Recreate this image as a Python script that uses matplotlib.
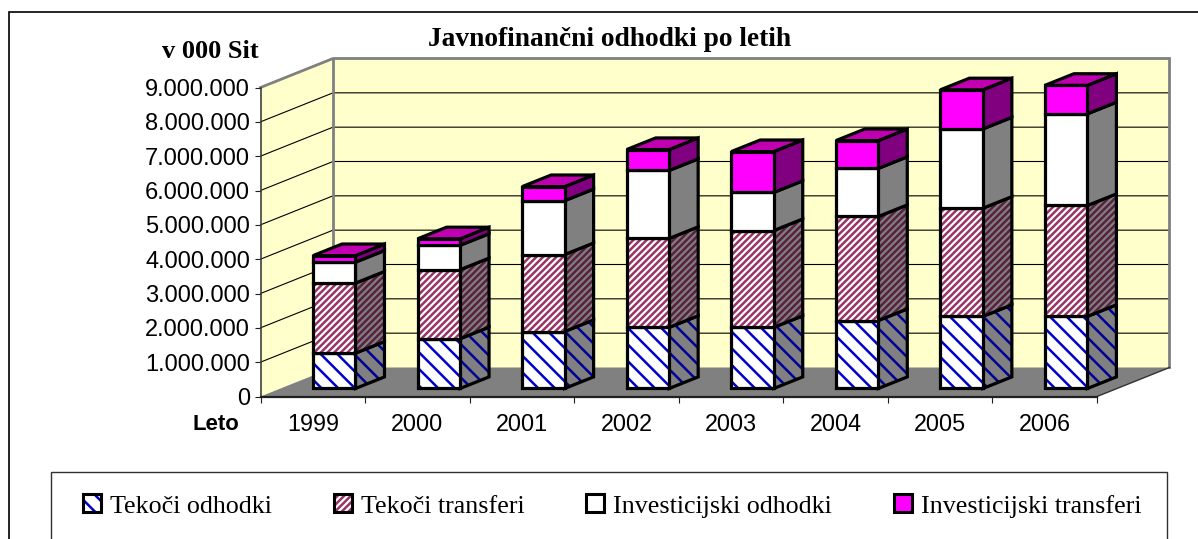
import matplotlib as mpl
mpl.use("Agg")
import matplotlib.pyplot as plt
from matplotlib.patches import Polygon, Patch, Rectangle
from matplotlib.legend_handler import HandlerBase

years = ["1999", "2000", "2001", "2002", "2003", "2004", "2005", "2006"]
tekoci_odhodki = [1030000, 1450000, 1660000, 1780000, 1780000, 1980000, 2100000, 2100000]
tekoci_transferi = [2040000, 2010000, 2240000, 2590000, 2820000, 3030000, 3150000, 3230000]
inv_odhodki = [610000, 710000, 1570000, 1980000, 1110000, 1400000, 2310000, 2670000]
inv_transferi = [190000, 190000, 410000, 610000, 1190000, 810000, 1140000, 830000]
y_ticks = [0, 1000000, 2000000, 3000000, 4000000, 5000000, 6000000, 7000000, 8000000, 9000000]
y_labels = ["0", "1.000.000", "2.000.000", "3.000.000", "4.000.000", "5.000.000",
            "6.000.000", "7.000.000", "8.000.000", "9.000.000"]
names = ["Tekoči odhodki", "Tekoči transferi", "Investicijski odhodki", "Investicijski transferi"]

W, H = 1198, 539
SERIF = "Liberation Serif"
SANS = "Liberation Sans"
plt.rcParams["hatch.linewidth"] = 1.8

L, R, B, T = 260.5, 1097.0, 396.5, 87.5
fig = plt.figure(figsize=(W / 100, H / 100), dpi=100, facecolor="white")
ax = fig.add_axes([L / W, 1 - B / H, (R - L) / W, (B - T) / H])
ax.set_xlim(0, 8)
ax.set_ylim(0, 9000000)
ax.patch.set_visible(False)

DX = 72.5 * 8 / (R - L)      # full depth, in x data units
DY = 29.0 * 9000000 / (B - T)  # full depth, in y data units


def pr(x, y, d=0.0):
    return (x + d * DX, y + d * DY)


class HP(Polygon):
    """Polygon with its own hatch width."""
    def __init__(self, *a, hlw=2.3, **k):
        super().__init__(*a, **k)
        self.hlw = hlw

    def draw(self, renderer):
        with mpl.rc_context({"hatch.linewidth": self.hlw}):
            super().draw(renderer)


def poly(pts, fc, ec="none", lw=0, hatch=None, hc=None, hlw=2.3, z=1):
    p = HP(pts, closed=True, facecolor=fc, linewidth=lw, hlw=hlw, clip_on=False,
           zorder=z, joinstyle="miter", hatch=hatch,
           edgecolor=hc if hc else ec)
    ax.add_patch(p)
    if hc:  # hatch takes the edge colour: outline drawn separately
        p.set_linewidth(0)
        ax.add_patch(Polygon(pts, closed=True, fill=False, edgecolor=ec, linewidth=lw,
                             clip_on=False, zorder=z, joinstyle="miter"))
    return p


WALL = "#FFFFCC"
GREY = "#808080"
# walls and floor
poly([pr(0, 0), pr(0, 0, 1), pr(0, 9000000, 1), pr(0, 9000000)], WALL, z=0.5)
poly([pr(0, 0, 1), pr(8, 0, 1), pr(8, 9000000, 1), pr(0, 9000000, 1)], WALL, z=0.5)
poly([pr(0, 0), pr(8, 0), pr(8, 0, 1), pr(0, 0, 1)], GREY, z=0.6)
for v in y_ticks[1:-1]:
    a, b, c = pr(0, v), pr(0, v, 1), pr(8, v, 1)
    ax.plot([a[0], b[0], c[0]], [a[1], b[1], c[1]], color="black", lw=0.8, clip_on=False, zorder=0.7)
a, b, c, e = pr(0, 9000000), pr(0, 9000000, 1), pr(8, 9000000, 1), pr(8, 0, 1)
ax.plot([a[0], b[0], c[0], e[0]], [a[1], b[1], c[1], e[1]], color=GREY, lw=2, clip_on=False,
        zorder=0.8, solid_joinstyle="miter")
a, b = pr(0, 0, 1), pr(0, 9000000, 1)
ax.plot([a[0], b[0]], [a[1], b[1]], color=GREY, lw=2, clip_on=False, zorder=0.8)
a, b = pr(8, 0), pr(8, 0, 1)
ax.plot([a[0], b[0]], [a[1], b[1]], color="#333333", lw=1, clip_on=False, zorder=0.8)

# series styles: front (face, hatch, hatch colour, hatch width), side (face, hatch colour)
BLUE_H = "\\\\"
PINK_H = "/////"
styles = [
    dict(fc="white", h=BLUE_H, hc="#0000CC", hlw=2.6, sfc=GREY, shc="#000099"),
    dict(fc="white", h=PINK_H, hc="#993366", hlw=1.3, sfc=GREY, shc="#5A2040"),
    dict(fc="white", h=None, hc=None, hlw=1, sfc=GREY, shc=None),
    dict(fc="#FF00FF", h=None, hc=None, hlw=1, sfc="#800080", shc=None),
]
series = [tekoci_odhodki, tekoci_transferi, inv_odhodki, inv_transferi]
bw, off, d0, d1 = 0.406, 0.311, 0.276, 0.676
EL = 2.3
for i in range(len(years)):
    x0, x1 = i + off, i + off + bw
    base = 0
    z = 2 + i * 0.1
    for s, st in zip(series, styles):
        top = base + s[i]
        poly([pr(x1, base, d0), pr(x1, base, d1), pr(x1, top, d1), pr(x1, top, d0)],
             st["sfc"], "black", EL, st["h"], st["shc"], st["hlw"], z)
        poly([pr(x0, base, d0), pr(x1, base, d0), pr(x1, top, d0), pr(x0, top, d0)],
             st["fc"], "black", EL, st["h"], st["hc"], st["hlw"], z + 0.01)
        base = top
    poly([pr(x0, base, d0), pr(x1, base, d0), pr(x1, base, d1), pr(x0, base, d1)],
         "#C000B0", "black", EL, z=z + 0.02)

# axes
for sp in ("top", "right"):
    ax.spines[sp].set_visible(False)
ax.spines["left"].set_color("#404040")
ax.spines["left"].set_linewidth(1.2)
ax.spines["bottom"].set_color("#202020")
ax.spines["bottom"].set_linewidth(1.6)
ax.set_yticks(y_ticks)
ax.set_yticklabels(y_labels, family=SANS, fontsize=17)
ax.tick_params(axis="y", length=4, width=0.8, pad=3.5, color="#202020")
ax.set_xticks(range(9))
ax.set_xticklabels([""] * 9)
ax.set_xticks([i + 0.5 for i in range(8)], minor=True)
ax.set_xticklabels(years, minor=True, family=SANS, fontsize=16.8)
ax.tick_params(axis="x", which="major", length=4, width=0.8, color="#202020")
ax.tick_params(axis="x", which="minor", length=0, pad=12)


def pxx(x):
    return (x - L) / (R - L)


def pxy(y):
    return (B - y) / (B - T)


ax.set_title("Javnofinančni odhodki po letih", family=SERIF, fontweight="bold", fontsize=19.7,
             x=pxx(610), y=pxy(39), va="center", ha="center", pad=0)
ax.text(pxx(210.5), pxy(52), "v 000 Sit", transform=ax.transAxes, family=SERIF,
        fontweight="bold", fontsize=19, ha="center", va="center")
ax.text(pxx(216), pxy(425), "Leto", transform=ax.transAxes, family=SANS,
        fontweight="bold", fontsize=15.9, ha="center", va="center")

# outer frame and legend frame (both run past the picture edge)
fig.add_artist(Rectangle((8.5 / W, -0.1), 1.1, 0.1 + (H - 12) / H,
                         transform=fig.transFigure, fill=False, edgecolor="black", lw=1.2))
fig.add_artist(Rectangle((51 / W, (H - 560) / H), (1167 - 51) / W, 88 / H,
                         transform=fig.transFigure, fill=False, edgecolor="#303030", lw=1.0))


class SwatchHandler(HandlerBase):
    def __init__(self, hc):
        super().__init__()
        self.hc = hc

    def create_artists(self, legend, orig, xd, yd, width, height, fontsize, trans):
        out = []
        if orig.get_hatch():
            inner = Rectangle((-xd, -yd), width, height, facecolor=orig.get_facecolor(),
                              edgecolor=self.hc, hatch=orig.get_hatch(), linewidth=0, transform=trans)
            out.append(inner)
        else:
            out.append(Rectangle((-xd, -yd), width, height, facecolor=orig.get_facecolor(),
                                 linewidth=0, transform=trans))
        out.append(Rectangle((-xd, -yd), width, height, fill=False, edgecolor="black",
                             linewidth=2.2, transform=trans))
        return out


handles = [
    Patch(facecolor="white", hatch="\\\\", label=names[0]),
    Patch(facecolor="white", hatch="/////", label=names[1]),
    Patch(facecolor="white", label=names[2]),
    Patch(facecolor="#FF00FF", label=names[3]),
]
hmap = {handles[0]: SwatchHandler("#0000CC"), handles[1]: SwatchHandler("#993366"),
        handles[2]: SwatchHandler("white"), handles[3]: SwatchHandler("#FF00FF")}
leg = fig.legend(handles=handles, ncol=4, loc="center left", frameon=False, handler_map=hmap,
                 bbox_to_anchor=(83 / W, (H - 506) / H), borderpad=0, borderaxespad=0,
                 prop={"family": SERIF, "size": 18.75}, handlelength=0.69, handleheight=0.69,
                 handletextpad=0.35, columnspacing=2.37)
fig.savefig("out.png", dpi=100)
